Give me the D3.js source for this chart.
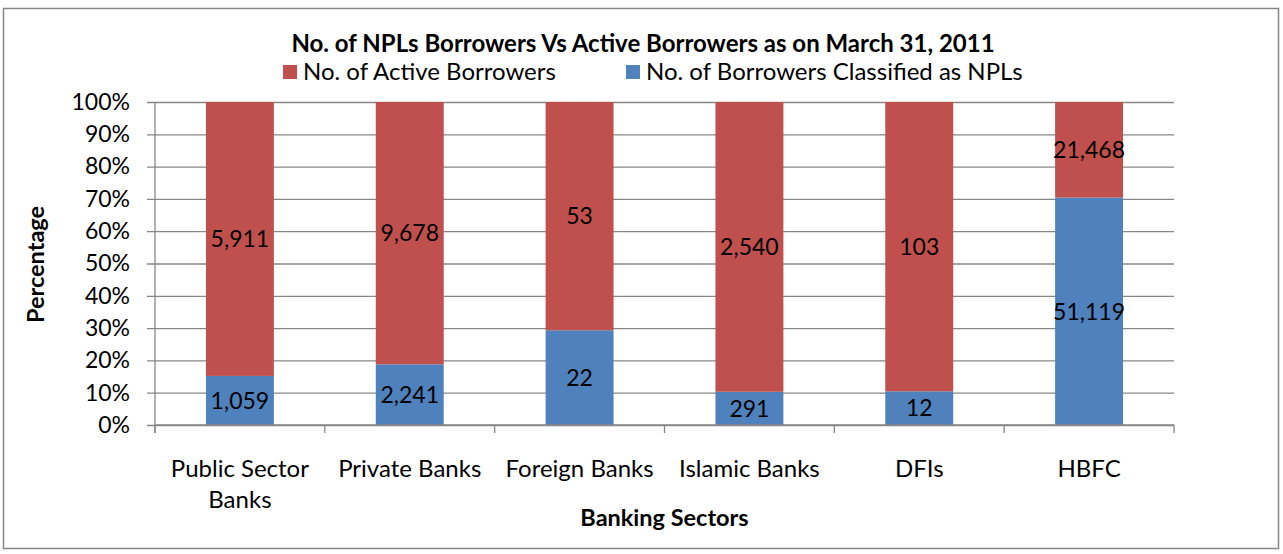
<!DOCTYPE html>
<html>
<head>
<meta charset="utf-8">
<script src="https://cdn.jsdelivr.net/npm/d3@7"></script>
<style>
  html, body { margin: 0; padding: 0; background: #fff; }
  svg { display: block; font-family: Lato, "Open Sans", sans-serif; }
</style>
</head>
<body>
<svg id="chart" width="1283" height="554"></svg>
<script>
// Banking sectors and borrower counts as on March 31, 2011
const categories = ["Public Sector Banks", "Private Banks", "Foreign Banks", "Islamic Banks", "DFIs", "HBFC"];
const nplBorrowers = [1059, 2241, 22, 291, 12, 51119];
const activeBorrowers = [5911, 9678, 53, 2540, 103, 21468];
const seriesNames = ["No. of Active Borrowers", "No. of Borrowers Classified as NPLs"];
const yTickValues = [0, 0.1, 0.2, 0.3, 0.4, 0.5, 0.6, 0.7, 0.8, 0.9, 1];

const titleText = "No. of NPLs Borrowers Vs Active Borrowers as on March 31, 2011";
const xTitle = "Banking Sectors";
const yTitle = "Percentage";

const colors = { npl: "#4F81BD", active: "#C0504D" };
const gridColor = "#878787";

const svg = d3.select("#chart");
const plot = { left: 155, right: 1174, top: 102, bottom: 425 };

// outer chart border
svg.append("rect")
  .attr("x", 3.5).attr("y", 8.5)
  .attr("width", 1275).attr("height", 540)
  .attr("fill", "#fff").attr("stroke", gridColor).attr("stroke-width", 1.5);

const rows = categories.map((c, i) => ({ category: c, npl: nplBorrowers[i], active: activeBorrowers[i] }));
const stack = d3.stack().keys(["npl", "active"]).offset(d3.stackOffsetExpand);
const layers = stack(rows);

const x = d3.scaleBand().domain(categories).range([plot.left, plot.right]).paddingInner(0.6).paddingOuter(0.3);
const xOuter = d3.scaleBand().domain(categories).range([plot.left, plot.right]);
const y = d3.scaleLinear().domain([0, 1]).range([plot.bottom, plot.top]);

// horizontal gridlines with outward tick marks
const yAxis = d3.axisLeft(y)
  .tickValues(yTickValues)
  .tickFormat(d3.format(".0%"))
  .tickSize(-(plot.right - plot.left))
  .tickPadding(25);
const gy = svg.append("g").attr("transform", `translate(${plot.left},0)`).call(yAxis);
gy.select(".domain").remove();
gy.selectAll(".tick line")
  .attr("x1", -8)
  .attr("stroke", gridColor).attr("stroke-width", 1.3);
gy.selectAll(".tick text")
  .attr("fill", "#000").attr("font-size", 23).attr("font-family", "Lato");

// vertical axis line
svg.append("line")
  .attr("x1", plot.left).attr("x2", plot.left)
  .attr("y1", plot.top).attr("y2", plot.bottom + 8)
  .attr("stroke", gridColor).attr("stroke-width", 1.3);

// bars
const barG = svg.append("g");
layers.forEach(layer => {
  barG.selectAll(null).data(layer).enter().append("rect")
    .attr("x", d => x(d.data.category))
    .attr("width", x.bandwidth())
    .attr("y", d => y(d[1]))
    .attr("height", d => y(d[0]) - y(d[1]))
    .attr("fill", colors[layer.key]);
});

// bottom axis: category boundary ticks
const boundaries = categories.map(c => xOuter(c)).concat([plot.right]);
svg.append("g").selectAll("line").data(boundaries).enter().append("line")
  .attr("x1", d => d).attr("x2", d => d)
  .attr("y1", plot.bottom).attr("y2", plot.bottom + 8)
  .attr("stroke", gridColor).attr("stroke-width", 1.3);
svg.append("line")
  .attr("x1", plot.left).attr("x2", plot.right)
  .attr("y1", plot.bottom).attr("y2", plot.bottom)
  .attr("stroke", gridColor).attr("stroke-width", 1.3);

// data labels centred in each segment
const fmt = d3.format(",");
const labelG = svg.append("g");
layers.forEach(layer => {
  labelG.selectAll(null).data(layer).enter().append("text")
    .attr("x", d => x(d.data.category) + x.bandwidth() / 2)
    .attr("y", d => (y(d[0]) + y(d[1])) / 2)
    .attr("dy", "0.36em")
    .attr("text-anchor", "middle")
    .attr("font-size", 23)
    .attr("fill", "#000")
    .text(d => fmt(d.data[layer.key]));
});

// category labels, wrapped to the category width
const catG = svg.append("g");
categories.forEach(c => {
  const cx = xOuter(c) + xOuter.bandwidth() / 2;
  const t = catG.append("text")
    .attr("x", cx)
    .attr("y", 477)
    .attr("text-anchor", "middle")
    .attr("font-size", 24)
    .attr("fill", "#000");
  const words = c.split(" ");
  let line = [];
  let tspan = t.append("tspan").attr("x", cx).attr("dy", 0);
  words.forEach(w => {
    line.push(w);
    tspan.text(line.join(" "));
    if (tspan.node().getComputedTextLength() > 162 && line.length > 1) {
      line.pop();
      tspan.text(line.join(" "));
      line = [w];
      tspan = t.append("tspan").attr("x", cx).attr("dy", 31).text(w);
    }
  });
});

// axis titles
svg.append("text")
  .attr("x", (plot.left + plot.right) / 2).attr("y", 526)
  .attr("text-anchor", "middle")
  .attr("font-size", 23.5).attr("font-weight", "bold")
  .text(xTitle);
svg.append("text")
  .attr("transform", `translate(44,${(plot.top + plot.bottom) / 2 + 1}) rotate(-90)`)
  .attr("text-anchor", "middle")
  .attr("font-size", 23.5).attr("font-weight", "bold")
  .text(yTitle);

// chart title
svg.append("text")
  .attr("x", 643).attr("y", 52)
  .attr("text-anchor", "middle")
  .attr("font-size", 24).attr("font-weight", "bold")
  .text(titleText);

// legend
const legendItems = [
  { name: seriesNames[0], color: colors.active, x: 283 },
  { name: seriesNames[1], color: colors.npl, x: 626 }
];
const lg = svg.append("g");
legendItems.forEach(it => {
  lg.append("rect").attr("x", it.x).attr("y", 65).attr("width", 14).attr("height", 14).attr("fill", it.color);
  lg.append("text").attr("x", it.x + 20).attr("y", 80)
    .attr("font-size", 24).attr("fill", "#000").text(it.name);
});
</script>
</body>
</html>
